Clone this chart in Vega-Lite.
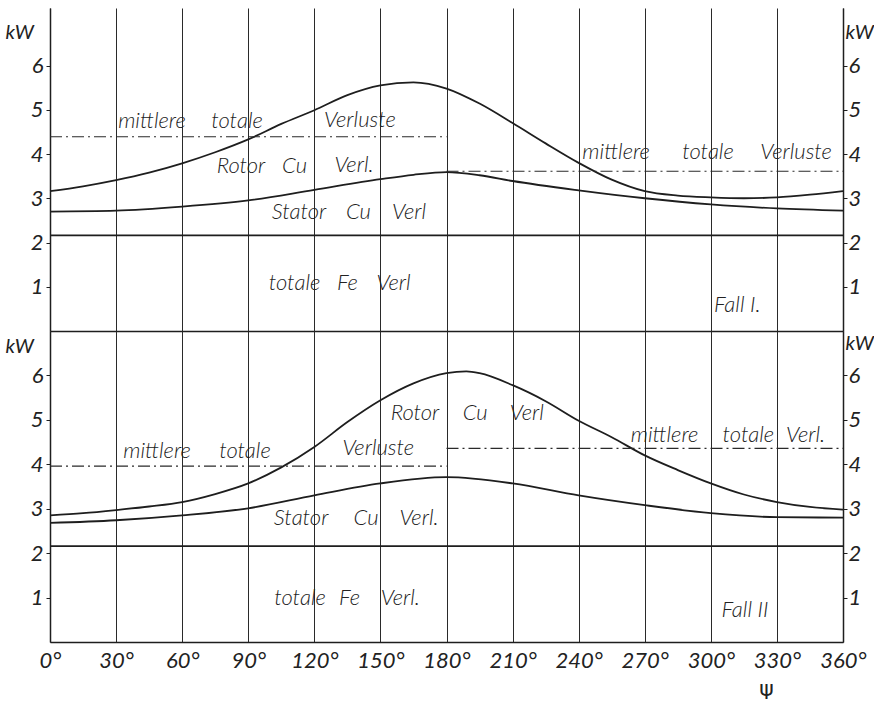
{
  "$schema": "https://vega.github.io/schema/vega-lite/v6.json",
  "padding": {"left": 5, "top": 8, "right": 0, "bottom": 0},
  "background": "#ffffff",
  "spacing": 0,
  "config": {
    "view": {"stroke": null},
    "concat": {"spacing": 0},
    "text": {"font": "Lato", "fontStyle": "italic", "fontWeight": 300, "fontSize": 22, "color": "#222222", "align": "center", "baseline": "middle"}
  },
  "datasets": {
    "curves": [
      {"p": "I", "s": "fe", "deg": 0, "kw": 2.16}, {"p": "I", "s": "fe", "deg": 360, "kw": 2.16},
      {"p": "I", "s": "stator", "deg": 0, "kw": 2.70}, {"p": "I", "s": "stator", "deg": 30, "kw": 2.72},
      {"p": "I", "s": "stator", "deg": 60, "kw": 2.81}, {"p": "I", "s": "stator", "deg": 90, "kw": 2.95},
      {"p": "I", "s": "stator", "deg": 120, "kw": 3.19}, {"p": "I", "s": "stator", "deg": 150, "kw": 3.43},
      {"p": "I", "s": "stator", "deg": 165, "kw": 3.53}, {"p": "I", "s": "stator", "deg": 180, "kw": 3.59},
      {"p": "I", "s": "stator", "deg": 195, "kw": 3.52}, {"p": "I", "s": "stator", "deg": 210, "kw": 3.39},
      {"p": "I", "s": "stator", "deg": 240, "kw": 3.18}, {"p": "I", "s": "stator", "deg": 270, "kw": 3.00},
      {"p": "I", "s": "stator", "deg": 300, "kw": 2.86}, {"p": "I", "s": "stator", "deg": 330, "kw": 2.77},
      {"p": "I", "s": "stator", "deg": 360, "kw": 2.72},
      {"p": "I", "s": "total", "deg": 0, "kw": 3.16}, {"p": "I", "s": "total", "deg": 15, "kw": 3.27},
      {"p": "I", "s": "total", "deg": 30, "kw": 3.41}, {"p": "I", "s": "total", "deg": 45, "kw": 3.58},
      {"p": "I", "s": "total", "deg": 60, "kw": 3.79}, {"p": "I", "s": "total", "deg": 75, "kw": 4.04},
      {"p": "I", "s": "total", "deg": 90, "kw": 4.33}, {"p": "I", "s": "total", "deg": 105, "kw": 4.68},
      {"p": "I", "s": "total", "deg": 120, "kw": 4.99}, {"p": "I", "s": "total", "deg": 135, "kw": 5.33},
      {"p": "I", "s": "total", "deg": 150, "kw": 5.55}, {"p": "I", "s": "total", "deg": 165, "kw": 5.62},
      {"p": "I", "s": "total", "deg": 180, "kw": 5.48}, {"p": "I", "s": "total", "deg": 195, "kw": 5.14},
      {"p": "I", "s": "total", "deg": 210, "kw": 4.70}, {"p": "I", "s": "total", "deg": 225, "kw": 4.24},
      {"p": "I", "s": "total", "deg": 240, "kw": 3.80}, {"p": "I", "s": "total", "deg": 255, "kw": 3.42},
      {"p": "I", "s": "total", "deg": 270, "kw": 3.16}, {"p": "I", "s": "total", "deg": 285, "kw": 3.06},
      {"p": "I", "s": "total", "deg": 300, "kw": 3.02}, {"p": "I", "s": "total", "deg": 315, "kw": 3.00},
      {"p": "I", "s": "total", "deg": 330, "kw": 3.02}, {"p": "I", "s": "total", "deg": 345, "kw": 3.08},
      {"p": "I", "s": "total", "deg": 360, "kw": 3.16},
      {"p": "II", "s": "fe", "deg": 0, "kw": 2.16}, {"p": "II", "s": "fe", "deg": 360, "kw": 2.16},
      {"p": "II", "s": "stator", "deg": 0, "kw": 2.68}, {"p": "II", "s": "stator", "deg": 30, "kw": 2.74},
      {"p": "II", "s": "stator", "deg": 60, "kw": 2.85}, {"p": "II", "s": "stator", "deg": 90, "kw": 3.01},
      {"p": "II", "s": "stator", "deg": 120, "kw": 3.30}, {"p": "II", "s": "stator", "deg": 150, "kw": 3.57},
      {"p": "II", "s": "stator", "deg": 180, "kw": 3.71}, {"p": "II", "s": "stator", "deg": 210, "kw": 3.57},
      {"p": "II", "s": "stator", "deg": 240, "kw": 3.30}, {"p": "II", "s": "stator", "deg": 270, "kw": 3.08},
      {"p": "II", "s": "stator", "deg": 300, "kw": 2.90}, {"p": "II", "s": "stator", "deg": 330, "kw": 2.81},
      {"p": "II", "s": "stator", "deg": 360, "kw": 2.80},
      {"p": "II", "s": "total", "deg": 0, "kw": 2.85}, {"p": "II", "s": "total", "deg": 15, "kw": 2.90},
      {"p": "II", "s": "total", "deg": 30, "kw": 2.97}, {"p": "II", "s": "total", "deg": 45, "kw": 3.05},
      {"p": "II", "s": "total", "deg": 60, "kw": 3.15}, {"p": "II", "s": "total", "deg": 75, "kw": 3.33},
      {"p": "II", "s": "total", "deg": 90, "kw": 3.57}, {"p": "II", "s": "total", "deg": 105, "kw": 3.93},
      {"p": "II", "s": "total", "deg": 120, "kw": 4.39}, {"p": "II", "s": "total", "deg": 135, "kw": 4.95},
      {"p": "II", "s": "total", "deg": 150, "kw": 5.44}, {"p": "II", "s": "total", "deg": 165, "kw": 5.82},
      {"p": "II", "s": "total", "deg": 180, "kw": 6.05}, {"p": "II", "s": "total", "deg": 189, "kw": 6.09},
      {"p": "II", "s": "total", "deg": 195, "kw": 6.05}, {"p": "II", "s": "total", "deg": 210, "kw": 5.78},
      {"p": "II", "s": "total", "deg": 225, "kw": 5.42}, {"p": "II", "s": "total", "deg": 240, "kw": 4.98},
      {"p": "II", "s": "total", "deg": 255, "kw": 4.61}, {"p": "II", "s": "total", "deg": 270, "kw": 4.20},
      {"p": "II", "s": "total", "deg": 285, "kw": 3.87}, {"p": "II", "s": "total", "deg": 300, "kw": 3.57},
      {"p": "II", "s": "total", "deg": 315, "kw": 3.32}, {"p": "II", "s": "total", "deg": 330, "kw": 3.15},
      {"p": "II", "s": "total", "deg": 345, "kw": 3.04}, {"p": "II", "s": "total", "deg": 360, "kw": 2.98}
    ],
    "means": [
      {"p": "I", "from": 0, "to": 180, "kw": 4.39},
      {"p": "I", "from": 180, "to": 360, "kw": 3.61},
      {"p": "II", "from": 0, "to": 180, "kw": 3.96},
      {"p": "II", "from": 180, "to": 360, "kw": 4.36}
    ],
    "labels": [
      {"p": "I", "deg": 46.3, "kw": 4.74, "t": "mittlere"},
      {"p": "I", "deg": 84.9, "kw": 4.74, "t": "totale"},
      {"p": "I", "deg": 140.7, "kw": 4.77, "t": "Verluste"},
      {"p": "I", "deg": 86.7, "kw": 3.72, "t": "Rotor"},
      {"p": "I", "deg": 111, "kw": 3.74, "t": "Cu"},
      {"p": "I", "deg": 138, "kw": 3.75, "t": "Verl."},
      {"p": "I", "deg": 113, "kw": 2.70, "t": "Stator"},
      {"p": "I", "deg": 140, "kw": 2.70, "t": "Cu"},
      {"p": "I", "deg": 163, "kw": 2.70, "t": "Verl"},
      {"p": "I", "deg": 111, "kw": 1.09, "t": "totale"},
      {"p": "I", "deg": 135, "kw": 1.09, "t": "Fe"},
      {"p": "I", "deg": 156, "kw": 1.09, "t": "Verl"},
      {"p": "I", "deg": 257, "kw": 4.05, "t": "mittlere"},
      {"p": "I", "deg": 298.7, "kw": 4.05, "t": "totale"},
      {"p": "I", "deg": 338.7, "kw": 4.05, "t": "Verluste"},
      {"p": "I", "deg": 312, "kw": 0.59, "t": "Fall I."},
      {"p": "II", "deg": 48.6, "kw": 4.31, "t": "mittlere"},
      {"p": "II", "deg": 88.5, "kw": 4.31, "t": "totale"},
      {"p": "II", "deg": 149, "kw": 4.36, "t": "Verluste"},
      {"p": "II", "deg": 165.7, "kw": 5.15, "t": "Rotor"},
      {"p": "II", "deg": 193, "kw": 5.15, "t": "Cu"},
      {"p": "II", "deg": 216.5, "kw": 5.15, "t": "Verl"},
      {"p": "II", "deg": 279, "kw": 4.65, "t": "mittlere"},
      {"p": "II", "deg": 317, "kw": 4.65, "t": "totale"},
      {"p": "II", "deg": 343, "kw": 4.65, "t": "Verl."},
      {"p": "II", "deg": 114, "kw": 2.79, "t": "Stator"},
      {"p": "II", "deg": 143.5, "kw": 2.79, "t": "Cu"},
      {"p": "II", "deg": 167.5, "kw": 2.79, "t": "Verl."},
      {"p": "II", "deg": 113.5, "kw": 1.0, "t": "totale"},
      {"p": "II", "deg": 136, "kw": 1.0, "t": "Fe"},
      {"p": "II", "deg": 159, "kw": 1.0, "t": "Verl."},
      {"p": "II", "deg": 315.5, "kw": 0.72, "t": "Fall II"}
    ]
  },
  "vconcat": [
    {
      "width": 793,
      "height": 323,
      "layer": [
        {
          "data": {"name": "curves"},
          "transform": [{"filter": "datum.p == 'I'"}],
          "mark": {"type": "line", "interpolate": "monotone", "color": "#1e1e1e", "strokeWidth": 1.8},
          "encoding": {
            "x": {"field": "deg", "type": "quantitative", "scale": {"domain": [0, 360], "nice": false},
              "axis": {"values": [0, 30, 60, 90, 120, 150, 180, 210, 240, 270, 300, 330, 360], "grid": true, "gridColor": "#2a2a2a", "gridWidth": 1, "gridOpacity": 1, "labels": false, "ticks": false, "domain": true, "domainColor": "#1e1e1e", "domainWidth": 1.5, "title": null, "minExtent": 0, "maxExtent": 0}},
            "y": {"field": "kw", "type": "quantitative", "scale": {"domain": [0, 7.3], "nice": false, "zero": true},
              "axis": {"orient": "left", "values": [1, 2, 3, 4, 5, 6], "grid": false, "domain": true, "domainColor": "#1e1e1e", "domainWidth": 1.5, "ticks": true, "tickSize": 4, "tickColor": "#1e1e1e", "labelFont": "Lato", "labelFontStyle": "italic", "labelFontSize": 22, "labelColor": "#222222", "labelPadding": 3, "title": "kW", "titleX": -45, "titleY": 24, "titleAngle": 0, "titleAlign": "left", "titleBaseline": "middle", "titleFont": "Lato", "titleFontStyle": "italic", "titleFontWeight": "normal", "titleFontSize": 20, "titleColor": "#222222"}},
            "detail": {"field": "s"}
          }
        },
        {
          "data": {"name": "means"},
          "transform": [{"filter": "datum.p == 'I'"}],
          "mark": {"type": "rule", "color": "#2a2a2a", "strokeWidth": 1.2, "strokeDash": [12, 4, 2, 4]},
          "encoding": {
            "x": {"field": "from", "type": "quantitative"},
            "x2": {"field": "to"},
            "y": {"field": "kw", "type": "quantitative", "axis": null}
          }
        },
        {
          "data": {"name": "labels"},
          "transform": [{"filter": "datum.p == 'I'"}],
          "mark": {"type": "text"},
          "encoding": {
            "x": {"field": "deg", "type": "quantitative"},
            "y": {"field": "kw", "type": "quantitative",
              "axis": {"orient": "right", "values": [1, 2, 3, 4, 5, 6], "grid": false, "domain": true, "domainColor": "#1e1e1e", "domainWidth": 1.5, "ticks": true, "tickSize": 4, "tickColor": "#1e1e1e", "labelFont": "Lato", "labelFontStyle": "italic", "labelFontSize": 22, "labelColor": "#222222", "labelPadding": 1, "title": "kW", "titleX": 2, "titleY": 24, "titleAngle": 0, "titleAlign": "left", "titleBaseline": "middle", "titleFont": "Lato", "titleFontStyle": "italic", "titleFontWeight": "normal", "titleFontSize": 20, "titleColor": "#222222"}},
            "text": {"field": "t"}
          }
        }
      ],
      "resolve": {"axis": {"y": "independent"}}
    },
    {
      "width": 793,
      "height": 311,
      "layer": [
        {
          "data": {"name": "curves"},
          "transform": [{"filter": "datum.p == 'II'"}],
          "mark": {"type": "line", "interpolate": "monotone", "color": "#1e1e1e", "strokeWidth": 1.8},
          "encoding": {
            "x": {"field": "deg", "type": "quantitative", "scale": {"domain": [0, 360], "nice": false},
              "axis": {"values": [0, 30, 60, 90, 120, 150, 180, 210, 240, 270, 300, 330, 360], "grid": true, "gridColor": "#2a2a2a", "gridWidth": 1, "gridOpacity": 1, "labels": true, "labelExpr": "datum.value + '°'", "labelFont": "Lato", "labelFontStyle": "italic", "labelFontSize": 22, "labelColor": "#222222", "labelPadding": 8, "labelFlush": false, "labelOverlap": false, "ticks": false, "domain": true, "domainColor": "#1e1e1e", "domainWidth": 1.5, "title": "ψ", "titleX": 716, "titleY": 46, "titleAngle": 0, "titleAlign": "center", "titleBaseline": "middle", "titleFont": "DejaVu Sans", "titleFontWeight": "normal", "titleFontSize": 22, "titleColor": "#222222"}},
            "y": {"field": "kw", "type": "quantitative", "scale": {"domain": [0, 7], "nice": false, "zero": true},
              "axis": {"orient": "left", "values": [1, 2, 3, 4, 5, 6], "grid": false, "domain": true, "domainColor": "#1e1e1e", "domainWidth": 1.5, "ticks": true, "tickSize": 4, "tickColor": "#1e1e1e", "labelFont": "Lato", "labelFontStyle": "italic", "labelFontSize": 22, "labelColor": "#222222", "labelPadding": 3, "title": "kW", "titleX": -45, "titleY": 15, "titleAngle": 0, "titleAlign": "left", "titleBaseline": "middle", "titleFont": "Lato", "titleFontStyle": "italic", "titleFontWeight": "normal", "titleFontSize": 20, "titleColor": "#222222"}},
            "detail": {"field": "s"}
          }
        },
        {
          "data": {"name": "means"},
          "transform": [{"filter": "datum.p == 'II'"}],
          "mark": {"type": "rule", "color": "#2a2a2a", "strokeWidth": 1.2, "strokeDash": [12, 4, 2, 4]},
          "encoding": {
            "x": {"field": "from", "type": "quantitative"},
            "x2": {"field": "to"},
            "y": {"field": "kw", "type": "quantitative", "axis": null}
          }
        },
        {
          "data": {"name": "labels"},
          "transform": [{"filter": "datum.p == 'II'"}],
          "mark": {"type": "text"},
          "encoding": {
            "x": {"field": "deg", "type": "quantitative"},
            "y": {"field": "kw", "type": "quantitative",
              "axis": {"orient": "right", "values": [1, 2, 3, 4, 5, 6], "grid": false, "domain": true, "domainColor": "#1e1e1e", "domainWidth": 1.5, "ticks": true, "tickSize": 4, "tickColor": "#1e1e1e", "labelFont": "Lato", "labelFontStyle": "italic", "labelFontSize": 22, "labelColor": "#222222", "labelPadding": 1, "title": "kW", "titleX": 2, "titleY": 12, "titleAngle": 0, "titleAlign": "left", "titleBaseline": "middle", "titleFont": "Lato", "titleFontStyle": "italic", "titleFontWeight": "normal", "titleFontSize": 20, "titleColor": "#222222"}},
            "text": {"field": "t"}
          }
        }
      ],
      "resolve": {"axis": {"y": "independent"}}
    }
  ]
}
